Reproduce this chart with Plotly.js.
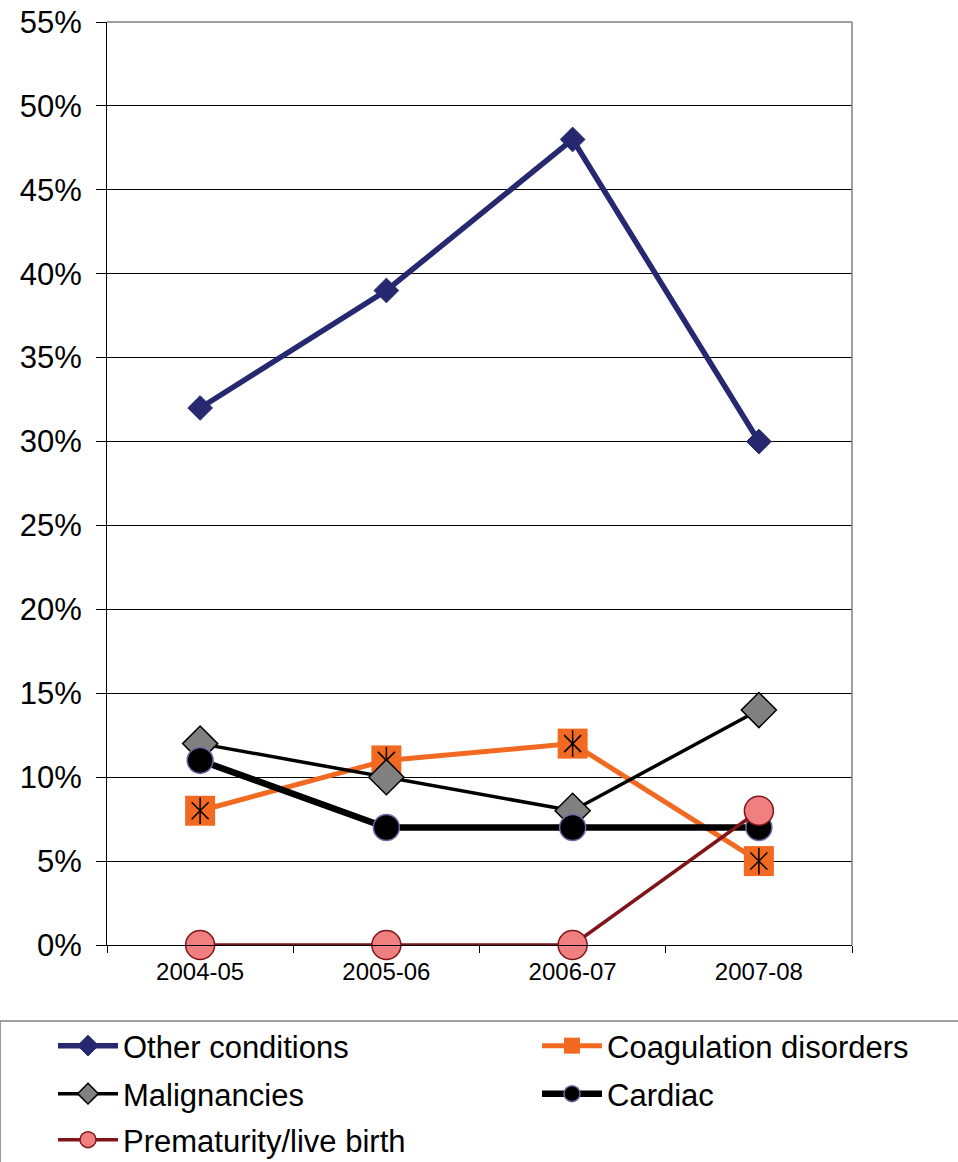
<!DOCTYPE html>
<html><head><meta charset="utf-8">
<script src="https://cdn.plot.ly/plotly-3.0.1.min.js"></script>
<style>html,body{margin:0;padding:0;background:#fff}#chart{width:958px;height:1162px}</style>
</head><body><div id="chart"></div>
<script>
const categories = ["2004-05", "2005-06", "2006-07", "2007-08"];
const otherConditions = [0.32, 0.39, 0.48, 0.30];
const coagulationDisorders = [0.08, 0.11, 0.12, 0.05];
const malignancies = [0.12, 0.10, 0.08, 0.14];
const cardiac = [0.11, 0.07, 0.07, 0.07];
const prematurity = [0.00, 0.00, 0.00, 0.08];
const yTickVals = [0, 0.05, 0.10, 0.15, 0.20, 0.25, 0.30, 0.35, 0.40, 0.45, 0.50, 0.55];

const FONT = "Liberation Sans, Arial, sans-serif";

const traces = [
  {name: "Other conditions", x: categories, y: otherConditions, mode: "lines+markers", legend: "legend",
   cliponaxis: false,
   line: {color: "#262870", width: 5.5},
   marker: {symbol: "diamond", size: 19, color: "#262870", line: {color: "#262870", width: 1}}},
  {name: "Coagulation disorders", x: categories, y: coagulationDisorders, mode: "lines+markers", legend: "legend2",
   cliponaxis: false,
   line: {color: "#F26A22", width: 5},
   marker: {symbol: "square", size: 30, color: "#F26A22", line: {width: 0}}},
  {name: "Coagulation disorders", x: categories, y: coagulationDisorders, mode: "markers",
   showlegend: false, hoverinfo: "skip", cliponaxis: false,
   marker: {symbol: "x-thin-open", size: 17, color: "#000", line: {color: "#000", width: 1.5}}},
  {name: "Coagulation disorders", x: categories, y: coagulationDisorders, mode: "markers",
   showlegend: false, hoverinfo: "skip", cliponaxis: false,
   marker: {symbol: "line-ns-open", size: 19, color: "#000", line: {color: "#000", width: 1.5}}},
  {name: "Malignancies", x: categories, y: malignancies, mode: "lines+markers", legend: "legend3",
   cliponaxis: false,
   line: {color: "#000000", width: 3.5},
   marker: {symbol: "diamond", size: 27, color: "#808080", line: {color: "#000", width: 1.5}}},
  {name: "Cardiac", x: categories, y: cardiac, mode: "lines+markers", legend: "legend4",
   cliponaxis: false,
   line: {color: "#000000", width: 6.5},
   marker: {symbol: "circle", size: 26, color: "#000000", line: {color: "#6B6BA8", width: 1.5}}},
  {name: "Prematurity/live birth", x: categories, y: prematurity, mode: "lines+markers", legend: "legend5",
   cliponaxis: false,
   line: {color: "#7F1518", width: 3.5},
   marker: {symbol: "circle", size: 29, color: "#F07F7F", line: {color: "#7F1518", width: 1.5}}}
];

function legendAt(px, py) {
  return {
    orientation: "h", xref: "container", yref: "container",
    x: px / 958, xanchor: "left", y: 1 - py / 1162, yanchor: "middle",
    bgcolor: "rgba(0,0,0,0)", borderwidth: 0,
    font: {family: FONT, size: 31, color: "#000"},
    itemwidth: 60, traceorder: "normal"
  };
}

const layout = {
  width: 958, height: 1162,
  margin: {l: 107, r: 106, t: 22, b: 217, pad: 0},
  paper_bgcolor: "#fff", plot_bgcolor: "#fff",
  font: {family: FONT, color: "#000"},
  showlegend: true,
  xaxis: {
    type: "category", categoryorder: "array", categoryarray: categories,
    range: [-0.5, 3.5], tickson: "boundaries", ticks: "outside", ticklen: 7, tickwidth: 1, tickcolor: "#000",
    showgrid: false, showline: true, linecolor: "#000", linewidth: 1,
    tickfont: {family: FONT, size: 24, color: "#000"}, ticklabelstandoff: 5
  },
  yaxis: {
    range: [0, 0.55], tickvals: yTickVals, tickformat: ".0%",
    ticks: "outside", ticklen: 10, tickwidth: 1, tickcolor: "#000",
    showgrid: true, gridcolor: "#000", gridwidth: 1,
    zeroline: true, zerolinecolor: "#000", zerolinewidth: 1,
    showline: true, linecolor: "#000", linewidth: 1,
    tickfont: {family: FONT, size: 31, color: "#000"}, ticklabelstandoff: 8
  },
  shapes: [
    {type: "line", xref: "paper", yref: "paper", x0: 0, x1: 1, y0: 1, y1: 1, line: {color: "#808080", width: 1.5}},
    {type: "line", xref: "paper", yref: "paper", x0: 1, x1: 1, y0: 0, y1: 1, line: {color: "#808080", width: 1.5}},
    {type: "rect", xref: "paper", yref: "paper", x0: -0.1436, x1: 1.15, y0: -0.0823, y1: -0.25,
     line: {color: "#808080", width: 1.5}, fillcolor: "rgba(0,0,0,0)"}
  ],
  legend: legendAt(53, 1046),
  legend2: legendAt(537, 1046),
  legend3: legendAt(53, 1094),
  legend4: legendAt(537, 1094),
  legend5: legendAt(53, 1140)
};

Plotly.newPlot("chart", traces, layout, {displayModeBar: false, staticPlot: true});
</script>
</body></html>
